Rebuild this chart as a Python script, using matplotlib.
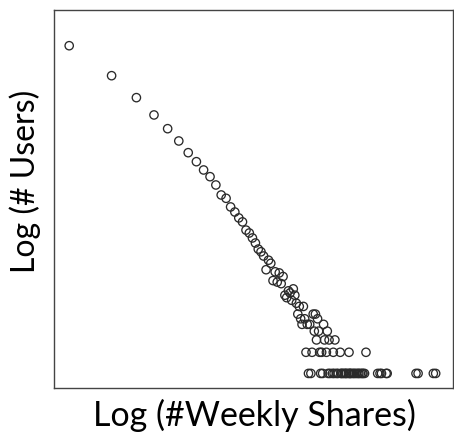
import matplotlib
matplotlib.use("Agg")
import matplotlib.pyplot as plt

# ---- data ----
# weekly shares per user (x) and number of users with that many shares (y)
shares = [1, 2, 3, 4, 5, 6, 7, 8, 9, 10,
          11, 12, 13, 14, 15, 16, 17, 18, 19, 20,
          21, 22, 23, 24, 25, 26, 27, 28, 29, 30,
          31, 32, 33, 34, 35, 36, 37, 38, 39, 40,
          41, 42, 43, 44, 45, 46, 47, 49, 51, 54,
          56, 55, 58, 59, 64, 68, 57, 65, 70, 77,
          48, 53, 60, 62, 67, 75, 84, 97, 128,
          50, 52, 61, 63, 69, 71, 74, 76, 79, 81,
          85, 86, 88, 90, 92, 93, 96, 98, 99, 101,
          104, 106, 109, 112, 114, 117, 120, 122, 125,
          155, 161, 165, 178, 181, 290, 300, 385, 400]
users = [46500, 17400, 8470, 4800, 3060, 2045, 1393, 1037, 790, 634,
         483, 348, 312, 235, 199, 164, 144, 110, 100, 85,
         72, 59, 54, 47, 30, 41, 37, 21, 28, 20,
         27, 19, 24, 13, 12, 15, 14, 11, 16, 13,
         10, 7, 9, 6, 5, 9, 6, 5, 5, 7,
         7, 4, 6, 4, 5, 4, 3, 3, 3, 3,
         2, 2, 2, 2, 2, 2, 2, 2, 2,
         1, 1, 1, 1, 1, 1, 1, 1, 1, 1,
         1, 1, 1, 1, 1, 1, 1, 1, 1, 1,
         1, 1, 1, 1, 1, 1, 1, 1, 1,
         1, 1, 1, 1, 1, 1, 1, 1, 1]

LABEL_FONT = ["Lato", "DejaVu Sans"]

fig = plt.figure(figsize=(4.54, 4.45), dpi=100)
ax = fig.add_axes([54/454, 1 - 388/445, (453-54)/454, (388-10)/445])

ax.scatter(shares, users, s=36, facecolors="none", edgecolors="#2a2a2a",
           linewidths=0.95)

ax.set_xscale("log")
ax.set_yscale("log")
ax.set_xlim(0.78, 531)
ax.set_ylim(0.62, 150000)

# no ticks, just the frame
ax.set_xticks([])
ax.set_yticks([])
ax.minorticks_off()
ax.tick_params(which="both", length=0, labelbottom=False, labelleft=False)
for sp in ax.spines.values():
    sp.set_color("#444444")
    sp.set_linewidth(1.0)

fig.text(254/454, 1 - 415/445, "Log (#Weekly Shares)", ha="center",
         va="center", fontsize=24.5, family=LABEL_FONT)
fig.text(25/454, 1 - 181/445, "Log (# Users)", ha="center", va="center",
         rotation=90, fontsize=23, family=LABEL_FONT)

fig.savefig("out.png", dpi=100)
